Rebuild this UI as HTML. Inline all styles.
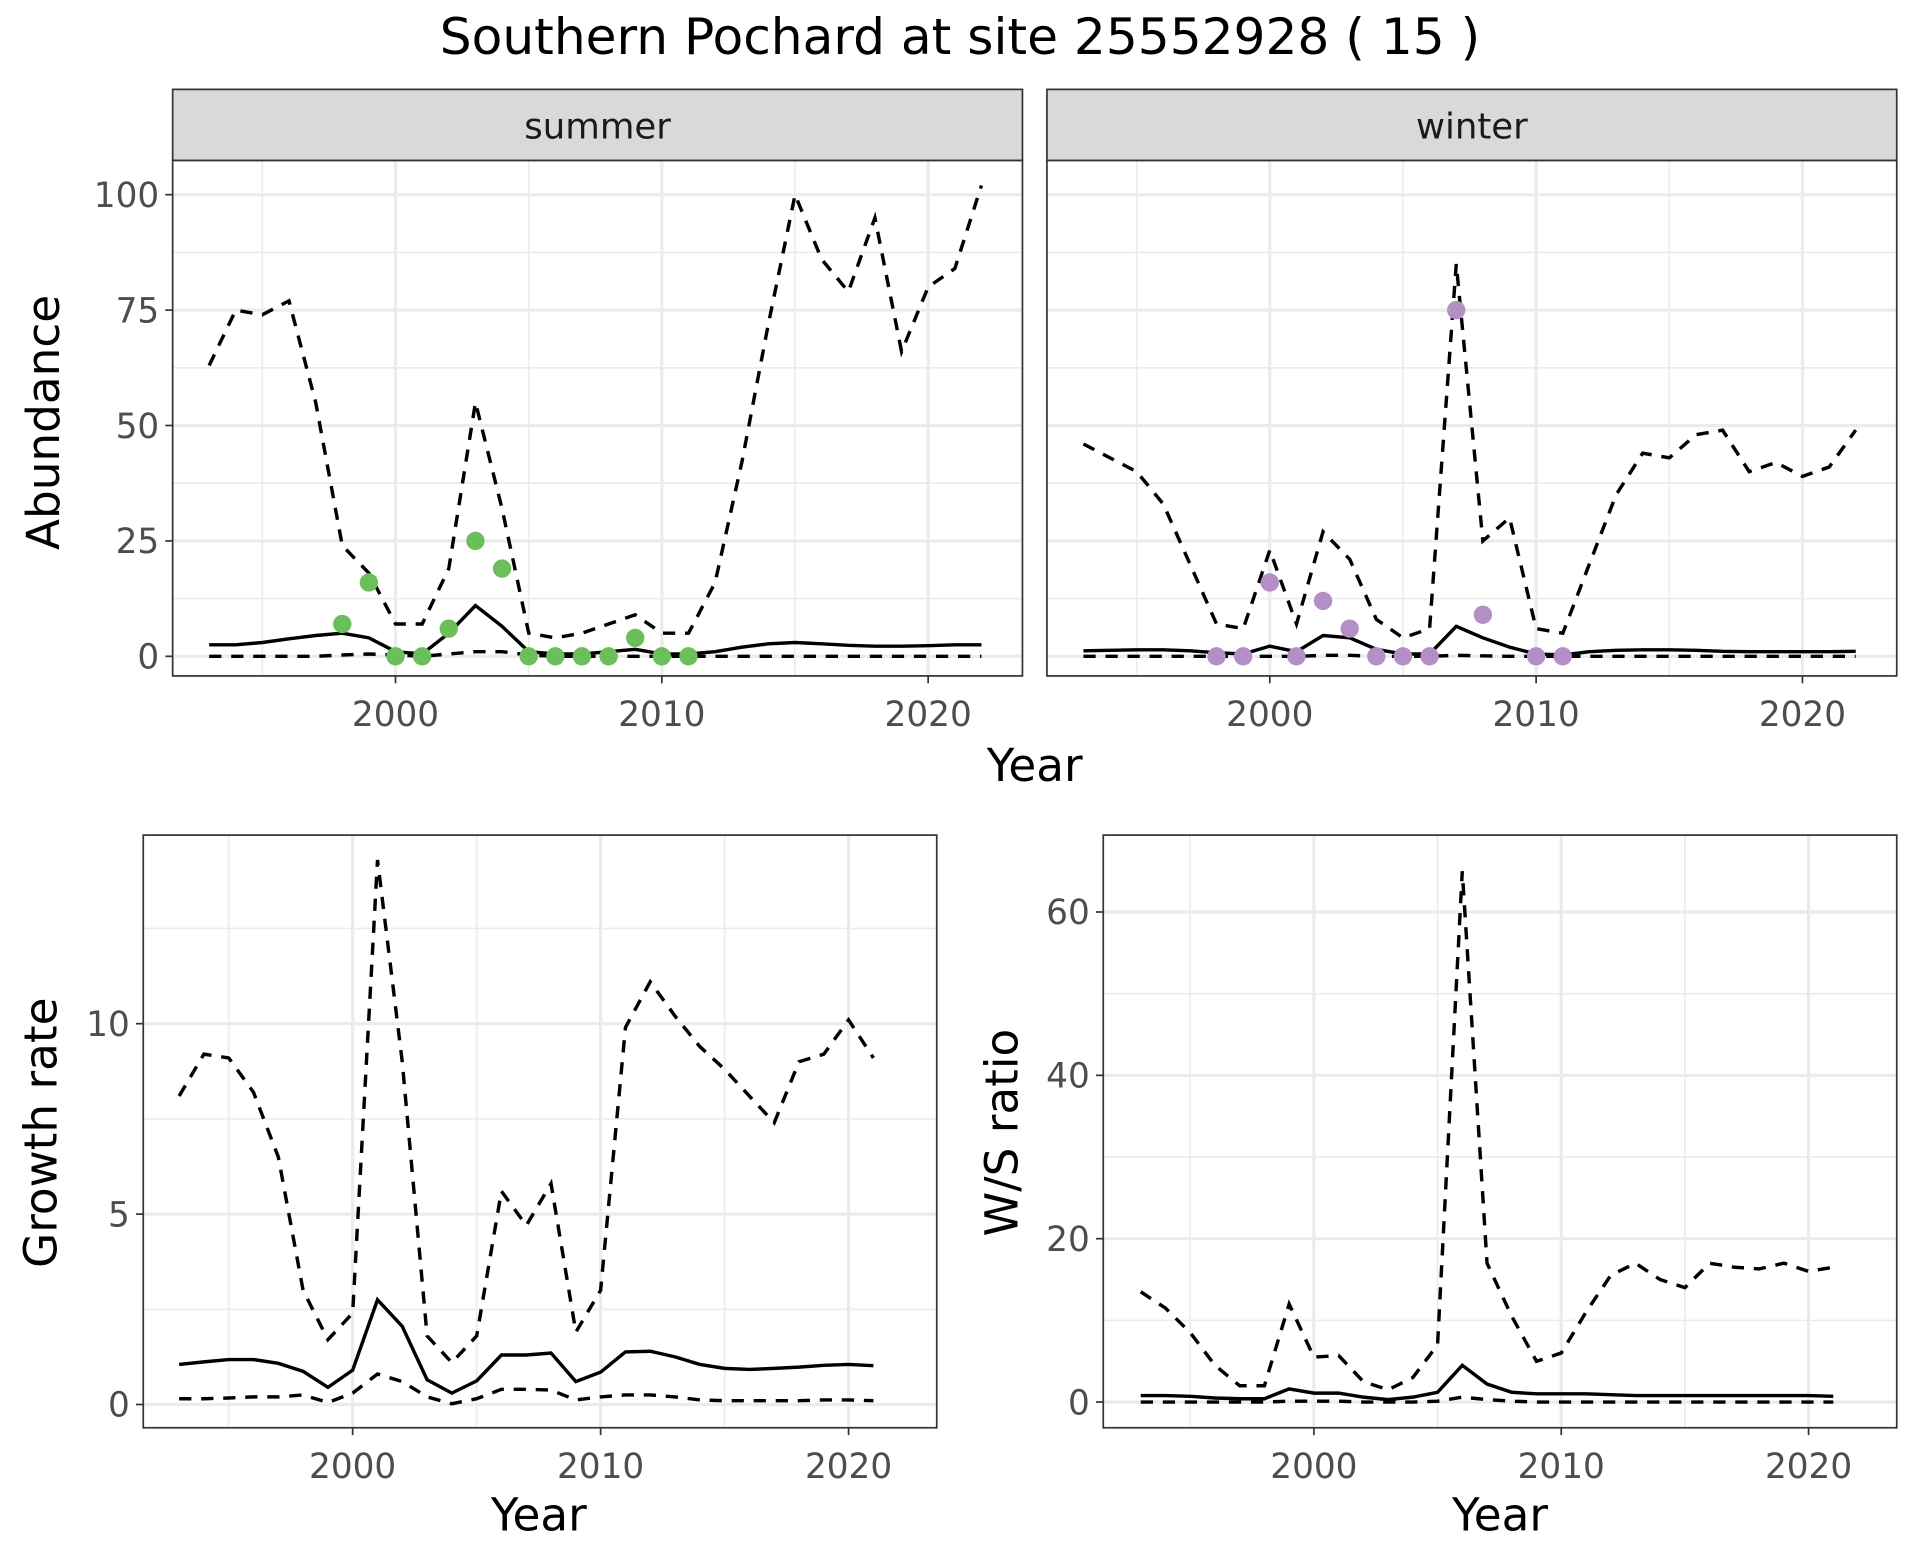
<!DOCTYPE html>
<html><head><meta charset="utf-8"><style>
html,body{margin:0;padding:0;background:#fff;}
svg{display:block;font-family:"DejaVu Sans","Liberation Sans",sans-serif;}
</style></head><body>
<svg id="chart" xmlns="http://www.w3.org/2000/svg" width="1920" height="1560" viewBox="0 0 1568 1274">
<rect width="1568" height="1274" fill="#fff"/>
<text x="784" y="44" text-anchor="middle" font-size="41" fill="#000">Southern Pochard at site 25552928 ( 15 )</text>
<g id="root"></g>
</svg>
<script>
const yearsA = [1993,1994,1995,1996,1997,1998,1999,2000,2001,2002,2003,2004,2005,2006,2007,2008,2009,2010,2011,2012,2013,2014,2015,2016,2017,2018,2019,2020,2021,2022];
const sumUpper = [63,75,74,77,55,24,18,7,7,19,55,32,5,4,5,7,9,5,5,16,42,72,100,86,79,95,66,80,84,102];
const sumMed = [2.5,2.5,3,3.8,4.5,5,4,1,0.5,5,11,6.5,1,0.5,0.5,1,1.5,0.5,0.5,1,2,2.7,3,2.7,2.4,2.2,2.2,2.3,2.5,2.5];
const sumLower = [0,0,0,0,0,0.3,0.5,0.3,0,0.5,1,1,0.3,0,0,0,0,0,0,0,0,0,0,0,0,0,0,0,0,0];
const sumPtYears = [1998,1999,2000,2001,2002,2003,2004,2005,2006,2007,2008,2009,2010,2011];
const sumPts = [7,16,0,0,6,25,19,0,0,0,0,4,0,0];
const winUpper = [46,43,40,33,20,7,6,23,7,27,21,8,4,6,85,25,30,6,5,20,35,44,43,48,49,40,42,39,41,49];
const winMed = [1.2,1.3,1.4,1.4,1.2,0.8,0.5,2.2,1,4.5,4,1.5,0.5,0.5,6.5,4,2,0.5,0.3,1,1.3,1.4,1.4,1.3,1.1,1,1,1,1,1.1];
const winLower = [0,0,0,0,0,0,0,0,0,0.2,0.2,0,0,0,0.2,0.1,0,0,0,0,0,0,0,0,0,0,0,0,0,0];
const winPtYears = [1998,1999,2000,2001,2002,2003,2004,2005,2006,2007,2008,2010,2011];
const winPts = [0,0,16,0,12,6,0,0,0,75,9,0,0];
const yearsB = [1993,1994,1995,1996,1997,1998,1999,2000,2001,2002,2003,2004,2005,2006,2007,2008,2009,2010,2011,2012,2013,2014,2015,2016,2017,2018,2019,2020,2021];
const grUpper = [8.1,9.2,9.1,8.2,6.5,3,1.7,2.4,14.3,9,1.8,1.1,1.8,5.6,4.7,5.8,1.9,3,9.9,11.1,10.2,9.4,8.8,8.1,7.4,9,9.2,10.1,9.1];
const grMed = [1.05,1.12,1.18,1.18,1.08,0.87,0.45,0.9,2.75,2.05,0.65,0.3,0.62,1.3,1.3,1.35,0.6,0.85,1.38,1.4,1.25,1.05,0.95,0.92,0.95,0.98,1.03,1.05,1.02];
const grLower = [0.15,0.15,0.17,0.2,0.2,0.25,0.05,0.3,0.8,0.6,0.2,0.02,0.15,0.4,0.4,0.38,0.12,0.2,0.25,0.25,0.2,0.12,0.1,0.1,0.1,0.1,0.12,0.12,0.1];
const wsUpper = [13.5,11.5,8.5,4.5,2,2,12,5.5,5.7,2.5,1.5,3,7,65,17,10.5,5,6,11,15.5,17,15,14,17,16.5,16.3,17,16,16.5];
const wsMed = [0.8,0.8,0.7,0.5,0.4,0.4,1.6,1.1,1.1,0.6,0.3,0.6,1.2,4.5,2.2,1.2,1,1,1,0.9,0.8,0.8,0.8,0.8,0.8,0.8,0.8,0.8,0.7];
const wsLower = [0,0,0,0,0,0,0.1,0.1,0.1,0,0,0,0.1,0.6,0.3,0.1,0,0,0,0,0,0,0,0,0,0,0,0,0];
const abTicks = [0,25,50,75,100];
const grTicks = [0,5,10];
const wsTicks = [0,20,40,60];
const xTicks = [2000,2010,2020];

const NS="http://www.w3.org/2000/svg";
const root=document.getElementById('root');
function mk(tag,attrs,parent){const e=document.createElementNS(NS,tag);for(const k in attrs)e.setAttribute(k,attrs[k]);(parent||root).appendChild(e);return e;}

function panel(name,p){
  const g=mk('g',{});
  
  
  const X=v=>p.x0+(v-2000)*p.xs, Y=v=>p.y0-v*p.ys;
  mk('rect',{x:p.l,y:p.t,width:p.r-p.l,height:p.b-p.t,fill:'#fff'},g);
  for(let yr=1990;yr<=2025;yr+=5){const x=X(yr);if(x>p.l&&x<p.r&&yr%10!==0)mk('line',{x1:x,x2:x,y1:p.t,y2:p.b,stroke:'#ebebeb','stroke-width':1.3},g);}
  const st=p.ticks[1]-p.ticks[0];
  for(let v=p.ticks[0]-st/2;v<=p.ticks[p.ticks.length-1]+st;v+=st){const y=Y(v);if(y>p.t&&y<p.b)mk('line',{x1:p.l,x2:p.r,y1:y,y2:y,stroke:'#ebebeb','stroke-width':1.3},g);}
  xTicks.forEach(t=>{const x=X(t);mk('line',{x1:x,x2:x,y1:p.t,y2:p.b,stroke:'#ebebeb','stroke-width':2.6},g);});
  p.ticks.forEach(t=>{const y=Y(t);mk('line',{x1:p.l,x2:p.r,y1:y,y2:y,stroke:'#ebebeb','stroke-width':2.6},g);});
  p.series.forEach((s,i)=>{
    const d=s.v.map((v,j)=>(j?'L':'M')+X(s.yrs[j]).toFixed(1)+','+Y(v).toFixed(1)).join('');
    const el=mk('path',{d:d,fill:'none',stroke:'#000','stroke-width':2.8,'stroke-dasharray':s.dash?'10,8':'none'},g);
    
    
  });
  if(p.pts){p.pts.v.forEach((v,j)=>{
    const c=mk('circle',{cx:X(p.pts.yrs[j]),cy:Y(v),r:7.5,fill:p.pts.c},g);
    
    
  });}
  mk('rect',{x:p.l,y:p.t,width:p.r-p.l,height:p.b-p.t,fill:'none',stroke:'#333','stroke-width':1.4},g);
  xTicks.forEach(t=>{const x=X(t);mk('line',{x1:x,x2:x,y1:p.b,y2:p.b+6,stroke:'#333','stroke-width':1.4},g);
    const tx=mk('text',{x:x,y:p.b+41,'text-anchor':'middle','font-size':28,fill:'#4d4d4d'},g);tx.textContent=t;
    });
  if(p.ylab!==false)p.ticks.forEach(t=>{const y=Y(t);mk('line',{x1:p.l-6,x2:p.l,y1:y,y2:y,stroke:'#333','stroke-width':1.4},g);
    const tx=mk('text',{x:p.l-11,y:y+10,'text-anchor':'end','font-size':28,fill:'#4d4d4d'},g);tx.textContent=t;
    });
  if(p.strip){mk('rect',{x:p.l,y:p.t-58,width:p.r-p.l,height:58,fill:'#d9d9d9',stroke:'#333','stroke-width':1.4},g);
    const tx=mk('text',{x:(p.l+p.r)/2,y:p.t-18,'text-anchor':'middle','font-size':29,fill:'#1a1a1a'},g);tx.textContent=p.strip;
    }
  return {X,Y};
}
function label(txt,x,y,rot,name){const t=mk('text',{x:x,y:y,'text-anchor':'middle','font-size':37,fill:'#000',transform:rot?`rotate(-90 ${x} ${y})`:''});t.textContent=txt;
  }

panel('summer',{l:141,r:835,t:131,b:552,x0:323,xs:21.75,y0:536,ys:3.77,ticks:abTicks,strip:'summer',
  series:[{n:'upper',v:sumUpper,yrs:yearsA,dash:1},{n:'median',v:sumMed,yrs:yearsA},{n:'lower',v:sumLower,yrs:yearsA,dash:1}],
  pts:{v:sumPts,yrs:sumPtYears,c:'#6abf5b'}});
panel('winter',{l:855,r:1549,t:131,b:552,x0:1037,xs:21.75,y0:536,ys:3.77,ticks:abTicks,strip:'winter',ylab:false,
  series:[{n:'upper',v:winUpper,yrs:yearsA,dash:1},{n:'median',v:winMed,yrs:yearsA},{n:'lower',v:winLower,yrs:yearsA,dash:1}],
  pts:{v:winPts,yrs:winPtYears,c:'#b38fc6'}});
panel('growth',{l:117,r:765,t:682,b:1166,x0:288,xs:20.25,y0:1147,ys:31.1,ticks:grTicks,
  series:[{n:'upper',v:grUpper,yrs:yearsB,dash:1},{n:'median',v:grMed,yrs:yearsB},{n:'lower',v:grLower,yrs:yearsB,dash:1}]});
panel('ws-ratio',{l:901,r:1549,t:682,b:1166,x0:1073,xs:20.2,y0:1145,ys:6.67,ticks:wsTicks,
  series:[{n:'upper',v:wsUpper,yrs:yearsB,dash:1},{n:'median',v:wsMed,yrs:yearsB},{n:'lower',v:wsLower,yrs:yearsB,dash:1}]});
label('Abundance',48,345,true,'abundance-y-title');
label('Year',845,638,false,'top-x-title');
label('Growth rate',46,925,true,'growth-y-title');
label('Year',440,1250,false,'growth-x-title');
label('W/S ratio',831,925,true,'ws-y-title');
label('Year',1225,1250,false,'ws-x-title');
</script>
</body></html>
